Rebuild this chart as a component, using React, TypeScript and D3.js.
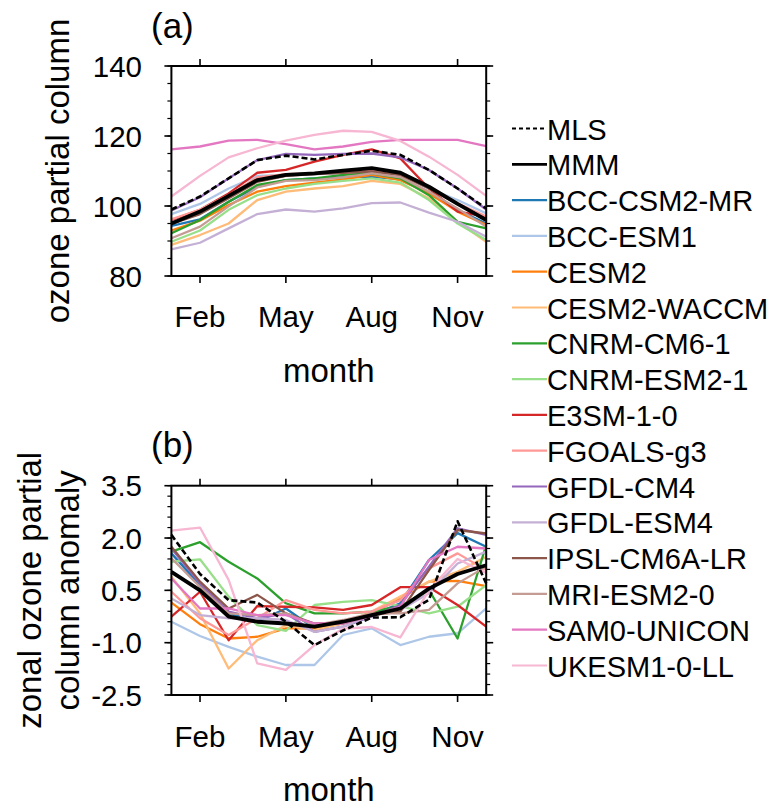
import React from "react";
import * as d3 from "d3";

const months = [1, 2, 3, 4, 5, 6, 7, 8, 9, 10, 11, 12];
const tickMonths = [2, 5, 8, 11];
const tickMonthLabels = ["Feb", "May", "Aug", "Nov"];

const seriesNames = [
  "MLS", "MMM", "BCC-CSM2-MR", "BCC-ESM1", "CESM2", "CESM2-WACCM", "CNRM-CM6-1",
  "CNRM-ESM2-1", "E3SM-1-0", "FGOALS-g3", "GFDL-CM4", "GFDL-ESM4", "IPSL-CM6A-LR",
  "MRI-ESM2-0", "SAM0-UNICON", "UKESM1-0-LL",
];
const seriesColors = [
  "#000000", "#000000", "#1f77b4", "#aec7e8", "#ff7f0e", "#ffbb78", "#2ca02c",
  "#98df8a", "#d62728", "#ff9896", "#9467bd", "#c5b0d5", "#8c564b",
  "#c49c94", "#e377c2", "#f7b6d2",
];

// Panel (a): ozone partial column
const colMLS = [99.0, 102.7, 107.9, 113.1, 114.4, 113.3, 114.6, 115.8, 114.6, 110.3, 105.0, 99.3];
const colMMM = [95.0, 98.4, 102.9, 107.4, 108.9, 109.3, 110.1, 110.8, 109.5, 105.5, 100.6, 96.0];
const colBCCCSM = [94.3, 96.2, 101.2, 105.5, 107.4, 107.9, 108.2, 108.4, 107.6, 103.6, 98.9, 95.0];
const colBCCESM = [97.7, 100.6, 105.0, 108.6, 108.9, 109.1, 109.3, 109.5, 108.6, 105.0, 101.7, 97.9];
const colCESM2 = [93.0, 95.8, 100.3, 104.1, 105.7, 106.7, 107.6, 108.9, 107.4, 103.6, 98.4, 94.6];
const colWACCM = [88.9, 91.7, 95.0, 101.7, 104.1, 105.0, 105.7, 107.2, 106.3, 102.2, 95.5, 89.8];
const colCNRMCM = [92.2, 96.0, 101.2, 106.0, 107.4, 107.9, 108.9, 109.3, 107.9, 103.1, 95.5, 93.6];
const colCNRMESM = [89.8, 93.0, 98.9, 103.1, 105.0, 106.3, 107.2, 107.9, 106.7, 101.7, 95.0, 90.3];
const colE3SM = [96.0, 98.9, 103.6, 109.5, 110.3, 112.7, 114.6, 116.2, 113.6, 105.0, 98.4, 97.0];
const colFGOALS = [96.2, 99.0, 103.1, 108.2, 109.1, 109.3, 109.5, 110.1, 108.9, 105.5, 100.8, 97.0];
const colGFDLCM4 = [98.7, 102.5, 107.9, 113.1, 114.9, 114.6, 114.9, 115.0, 113.9, 110.3, 105.0, 99.0];
const colGFDLESM4 = [87.6, 89.5, 93.6, 97.7, 99.0, 98.4, 99.3, 100.8, 101.0, 98.1, 95.5, 91.2];
const colIPSL = [94.9, 97.7, 102.2, 106.9, 108.6, 109.1, 109.5, 109.8, 108.9, 105.0, 100.6, 96.2];
const colMRI = [90.8, 94.1, 99.9, 105.3, 107.2, 107.4, 108.2, 109.3, 108.2, 104.1, 99.3, 94.1];
const colSAM0 = [116.2, 117.0, 118.7, 118.9, 117.7, 116.2, 117.0, 118.3, 118.9, 118.9, 118.9, 117.1];
const colUKESM = [102.7, 108.6, 113.9, 116.5, 118.7, 120.3, 121.5, 121.2, 118.6, 114.1, 108.9, 102.9];

// Panel (b): zonal ozone partial column anomaly
const anoMLS = [2.09, 0.97, 0.22, 0.15, -0.4, -1.07, -0.65, -0.28, -0.27, 0.23, 2.48, 0.7];
const anoMMM = [1.03, 0.5, -0.25, -0.4, -0.45, -0.54, -0.4, -0.21, -0.02, 0.55, 0.97, 1.22];
const anoBCCCSM = [1.56, 0.65, -0.16, -0.4, -0.02, -0.59, -0.45, -0.21, 0.13, 1.37, 2.14, 1.75];
const anoBCCESM = [-0.4, -0.81, -1.12, -1.4, -1.64, -1.64, -0.78, -0.59, -1.07, -0.83, -0.73, -0.02];
const anoCESM2 = [0.15, -0.47, -0.88, -0.83, -0.59, -0.59, -0.45, -0.16, 0.27, 0.75, 0.77, 0.62];
const anoWACCM = [0.89, -0.16, -1.74, -0.93, -0.5, -0.64, -0.45, -0.11, 0.32, 0.75, 1.03, 1.46];
const anoCNRMCM = [1.61, 1.88, 1.32, 0.84, 0.13, -0.16, -0.16, -0.11, 0.05, 0.51, -0.88, 1.8];
const anoCNRMESM = [1.32, 1.39, 0.32, -0.5, -0.66, 0.08, 0.17, 0.22, 0.05, -0.16, 0.03, 0.65];
const anoE3SM = [-0.25, 0.46, -0.93, 0.05, 0.03, 0.01, -0.06, 0.08, 0.59, 0.59, 0.08, -0.54];
const anoFGOALS = [0.46, -0.3, -0.78, -0.3, 0.22, -0.06, -0.16, -0.11, 0.22, 1.13, 1.56, 1.08];
const anoGFDLCM4 = [1.7, 0.7, -0.11, -0.3, -0.16, -0.69, -0.54, -0.25, 0.08, 1.18, 2.28, 2.09];
const anoGFDLESM4 = [0.27, -0.21, -0.3, -0.3, -0.35, -0.69, -0.54, -0.21, -0.06, 0.42, 1.27, 1.61];
const anoIPSL = [1.75, 0.75, -0.02, 0.37, -0.16, -0.45, -0.45, -0.21, -0.11, 1.08, 2.23, 2.13];
const anoMRI = [1.42, 0.6, -0.16, -0.21, -0.16, -0.5, -0.35, -0.16, -0.16, -0.06, 0.7, 1.18];
const anoSAM0 = [0.84, -0.02, -0.02, -0.21, -0.21, -0.45, -0.45, -0.23, 0.03, 1.37, 1.75, 1.7];
const anoUKESM = [2.21, 2.3, 0.8, -1.59, -1.78, -1.07, -0.6, -0.55, -0.85, 0.5, 1.4, 1.0];

const panelAData = [colMLS, colMMM, colBCCCSM, colBCCESM, colCESM2, colWACCM, colCNRMCM, colCNRMESM,
  colE3SM, colFGOALS, colGFDLCM4, colGFDLESM4, colIPSL, colMRI, colSAM0, colUKESM];
const panelBData = [anoMLS, anoMMM, anoBCCCSM, anoBCCESM, anoCESM2, anoWACCM, anoCNRMCM, anoCNRMESM,
  anoE3SM, anoFGOALS, anoGFDLCM4, anoGFDLESM4, anoIPSL, anoMRI, anoSAM0, anoUKESM];

const aMajor = [80, 100, 120, 140];
const aMajorLabels = ["80", "100", "120", "140"];
const bMajor = [-2.5, -1.0, 0.5, 2.0, 3.5];
const bMajorLabels = ["-2.5", "-1.0", "0.5", "2.0", "3.5"];

const FONT = "'Liberation Sans', Arial, Helvetica, sans-serif";
const X0 = 171.4;
const X1 = 486.2;

function Panel({ data, top, bottom, domain, major, majorLabels, minorStep, label, labelY, titleLines, titleCx, monthBaseline, tickBaseline }) {
  const x = d3.scaleLinear().domain([1, 12]).range([X0, X1]);
  const y = d3.scaleLinear().domain(domain).range([bottom, top]);
  const minor = d3.range(domain[0], domain[1] + 1e-6, minorStep).map((v) => +v.toFixed(4));
  const line = d3.line<number>().x((_, i) => x(months[i])).y((d) => y(d));
  const order = data.map((_, i) => i).slice(2).concat([1, 0]);
  const titleCy = (top + bottom) / 2;
  return (
    <g>
      <text x={151} y={labelY} fontSize={35} fontFamily={FONT}>{label}</text>
      {order.map((i) => (
        <path
          key={i}
          d={line(data[i]) || ""}
          fill="none"
          stroke={seriesColors[i]}
          strokeWidth={i === 1 ? 3.8 : i === 0 ? 2.6 : 2.3}
          strokeDasharray={i === 0 ? "6,3" : undefined}
          strokeLinejoin="round"
        />
      ))}
      <rect x={X0} y={top} width={X1 - X0} height={bottom - top} fill="none" stroke="#000" strokeWidth={2} />
      {minor.map((v, i) => (
        <g key={"mn" + i}>
          <line x1={X0} x2={X0 - 4} y1={y(v)} y2={y(v)} stroke="#000" strokeWidth={1.2} />
          <line x1={X1} x2={X1 + 4} y1={y(v)} y2={y(v)} stroke="#000" strokeWidth={1.2} />
        </g>
      ))}
      {major.map((v, i) => (
        <g key={"mj" + i}>
          <line x1={X0} x2={X0 - 7} y1={y(v)} y2={y(v)} stroke="#000" strokeWidth={1.6} />
          <line x1={X1} x2={X1 + 7} y1={y(v)} y2={y(v)} stroke="#000" strokeWidth={1.6} />
          <text x={142} y={y(v) + 10.5} fontSize={29.5} textAnchor="end" fontFamily={FONT}>{majorLabels[i]}</text>
        </g>
      ))}
      {tickMonths.map((m, i) => (
        <g key={"xm" + i}>
          <line x1={x(m)} x2={x(m)} y1={top} y2={top - 7} stroke="#000" strokeWidth={1.6} />
          <line x1={x(m)} x2={x(m)} y1={bottom} y2={bottom + 7} stroke="#000" strokeWidth={1.6} />
          <text x={x(m)} y={tickBaseline} fontSize={29.5} textAnchor="middle" fontFamily={FONT}>{tickMonthLabels[i]}</text>
        </g>
      ))}
      <text x={(X0 + X1) / 2} y={monthBaseline} fontSize={33} textAnchor="middle" fontFamily={FONT}>month</text>
      <text
        transform={`translate(${titleCx},${titleCy}) rotate(-90)`}
        fontSize={33}
        textAnchor="middle"
        fontFamily={FONT}
      >
        {titleLines.map((t, i) => (
          <tspan key={i} x={0} y={(i - (titleLines.length - 1) / 2) * 38 + 11}>{t}</tspan>
        ))}
      </text>
    </g>
  );
}

function Legend() {
  const base0 = 139.5;
  const step = 35.8;
  return (
    <g>
      {seriesNames.map((n, i) => {
        const b = base0 + i * step;
        return (
          <g key={n}>
            <line
              x1={512}
              x2={547}
              y1={b - 11}
              y2={b - 11}
              stroke={seriesColors[i]}
              strokeWidth={i === 1 ? 2.8 : 2.2}
              strokeDasharray={i === 0 ? "4,3" : undefined}
            />
            <text x={547} y={b} fontSize={29} fontFamily={FONT}>{n}</text>
          </g>
        );
      })}
    </g>
  );
}

export default function App() {
  return (
    <svg width={773} height={809} style={{ position: "absolute", left: 0, top: 0, background: "#fff" }}>
      <rect width={773} height={809} fill="#fff" />
      <Panel
        data={panelAData}
        top={66}
        bottom={276}
        domain={[80, 140]}
        major={aMajor}
        majorLabels={aMajorLabels}
        minorStep={5}
        label="(a)"
        labelY={38}
        titleLines={["ozone partial column"]}
        titleCx={58}
        tickBaseline={327}
        monthBaseline={382}
      />
      <Panel
        data={panelBData}
        top={485.7}
        bottom={695}
        domain={[-2.5, 3.5]}
        major={bMajor}
        majorLabels={bMajorLabels}
        minorStep={0.3}
        label="(b)"
        labelY={457}
        titleLines={["zonal ozone partial", "column anomaly"]}
        titleCx={49}
        tickBaseline={747}
        monthBaseline={801}
      />
      <Legend />
    </svg>
  );
}
